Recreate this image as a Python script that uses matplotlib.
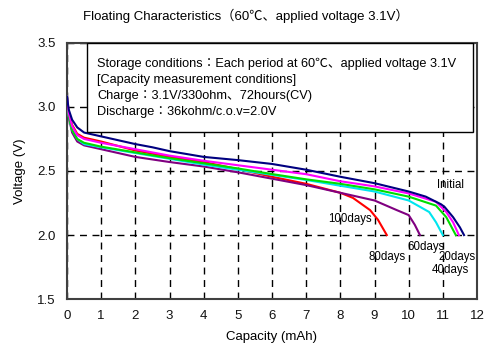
import matplotlib
matplotlib.use("Agg")
import matplotlib.pyplot as plt
from matplotlib.patches import Rectangle

plt.rcParams['font.family'] = ['Liberation Sans', 'Noto Sans CJK JP', 'DejaVu Sans']

# Data (capacity mAh, voltage V)
init_cap = [0, 0.05, 0.15, 0.3, 0.5, 1, 1.5, 2, 2.5, 3, 4, 5, 6, 7, 8, 9, 10, 10.5, 10.8, 10.95, 11.05, 11.3, 11.5, 11.62]
init_v = [3.08, 2.98, 2.90, 2.84, 2.80, 2.77, 2.74, 2.71, 2.685, 2.655, 2.61, 2.585, 2.555, 2.51, 2.455, 2.405, 2.34, 2.30, 2.26, 2.24, 2.22, 2.14, 2.06, 2.0]

d20_cap = [0, 0.05, 0.15, 0.3, 0.5, 1, 2, 3, 4, 5, 6, 7, 8, 9, 10, 10.8, 11.1, 11.3, 11.47]
d20_v = [3.08, 2.95, 2.85, 2.78, 2.75, 2.72, 2.67, 2.62, 2.58, 2.545, 2.51, 2.475, 2.42, 2.38, 2.325, 2.26, 2.18, 2.10, 2.0]

d40_cap = [0, 0.05, 0.15, 0.3, 0.5, 1, 2, 3, 4, 5, 6, 7, 8, 9, 10, 10.8, 11.1, 11.38]
d40_v = [3.08, 2.93, 2.82, 2.75, 2.72, 2.69, 2.645, 2.60, 2.56, 2.52, 2.476, 2.435, 2.40, 2.357, 2.30, 2.23, 2.14, 2.0]

d60_cap = [0, 0.05, 0.15, 0.3, 0.5, 1, 2, 3, 4, 5, 6, 7, 8, 9, 10, 10.6, 10.8, 11.0]
d60_v = [3.08, 2.93, 2.82, 2.75, 2.71, 2.685, 2.64, 2.595, 2.55, 2.51, 2.47, 2.43, 2.385, 2.34, 2.27, 2.18, 2.10, 2.0]

d80_cap = [0, 0.05, 0.15, 0.3, 0.5, 1, 2, 3, 4, 5, 6, 7, 8, 9, 9.65, 10, 10.18, 10.33]
d80_v = [3.08, 2.92, 2.80, 2.73, 2.70, 2.67, 2.61, 2.57, 2.535, 2.49, 2.44, 2.39, 2.33, 2.27, 2.195, 2.156, 2.08, 2.0]

d100_cap = [0, 0.05, 0.15, 0.3, 0.5, 1, 2, 3, 4, 5, 6, 7, 8, 8.37, 8.87, 9.1, 9.36]
d100_v = [3.08, 2.96, 2.86, 2.79, 2.76, 2.73, 2.66, 2.61, 2.57, 2.515, 2.455, 2.40, 2.33, 2.29, 2.195, 2.12, 2.0]

series = [
    ("100days", d100_cap, d100_v, "#FF0000"),
    ("80days", d80_cap, d80_v, "#800080"),
    ("60days", d60_cap, d60_v, "#00E5EE"),
    ("40days", d40_cap, d40_v, "#00DD00"),
    ("20days", d20_cap, d20_v, "#FF00FF"),
    ("Initial", init_cap, init_v, "#000080"),
]

labels = ["Initial", "100days", "80days", "60days", "20days", "40days"]
label_x = [10.83, 7.64, 8.81, 9.95, 10.86, 10.68]
label_y = [2.39, 2.125, 1.83, 1.906, 1.83, 1.73]

x_ticks = list(range(0, 13))
y_ticks = [1.5, 2.0, 2.5, 3.0, 3.5]

fig = plt.figure(figsize=(5, 3.6), dpi=100)
ax = fig.add_axes([0.134, 0.169, 0.820, 0.712])

for name, c, v, col in series:
    ax.plot(c, v, color=col, lw=1.5, zorder=3)

ax.set_xlim(0, 12)
ax.set_ylim(1.5, 3.5)
ax.set_xticks(x_ticks)
ax.set_yticks(y_ticks)
ax.set_yticklabels([f"{t:.1f}" for t in y_ticks])
ax.tick_params(length=0, labelsize=9.5, pad=8, colors='#111111')
ax.grid(True, color='black', linestyle=(0, (5, 4)), lw=1.0)
for s in ax.spines.values():
    s.set_color('#404040')
    s.set_linewidth(1.5)

ax.set_xlabel("Capacity (mAh)", fontsize=9.5, labelpad=6)
ax.set_ylabel("Voltage (V)", fontsize=9.5, labelpad=8)
fig.text(0.492, 0.957, "Floating Characteristics（60℃、applied voltage 3.1V）", ha='center', va='center', fontsize=9.5)

for t, x, y in zip(labels, label_x, label_y):
    ax.text(x, y, t, fontsize=8.3, ha='left', va='center', zorder=5)

# condition box
box_text = ("Storage conditions：Each period at 60℃、applied voltage 3.1V\n"
            "[Capacity measurement conditions]\n"
            "Charge：3.1V/330ohm、72hours(CV)\n"
            "Discharge：36kohm/c.o.v=2.0V")
rect = Rectangle((0.585, 2.805), 11.88 - 0.585, 3.5 - 2.805, facecolor='white', edgecolor='black', lw=1.0, zorder=4)
ax.add_patch(rect)
ax.text(0.88, 3.385, box_text, fontsize=9.2, ha='left', va='top', linespacing=1.45, zorder=5)

fig.savefig("out.png", dpi=100)
